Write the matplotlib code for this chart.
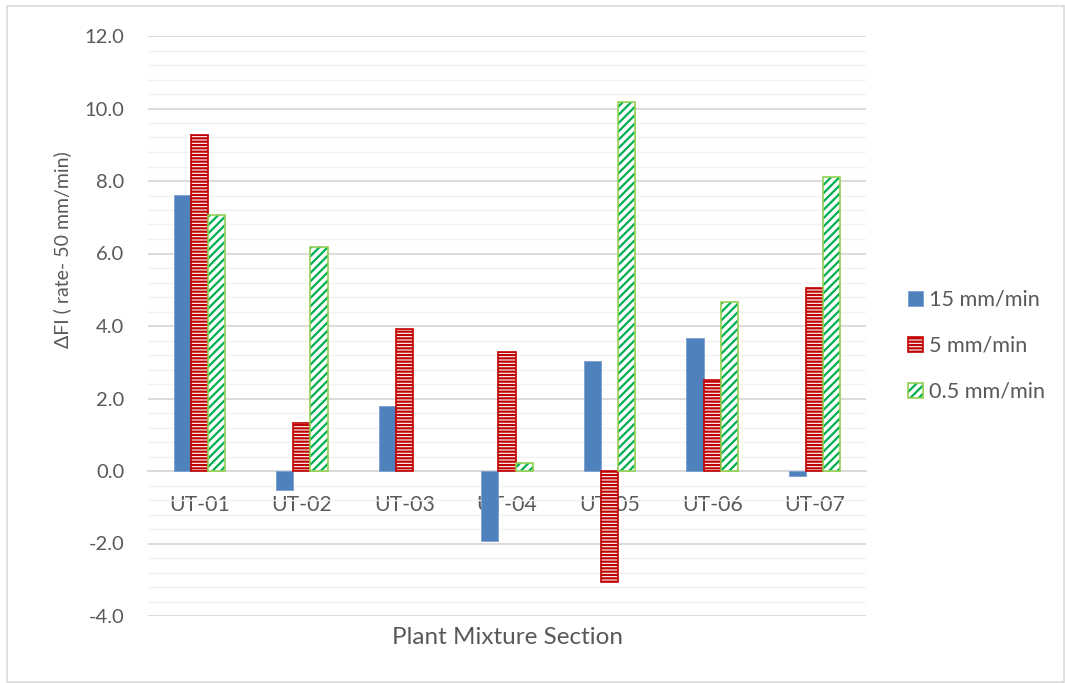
import numpy as np
import matplotlib
matplotlib.use("Agg")
import matplotlib.pyplot as plt
from matplotlib.patches import Rectangle
from matplotlib.ticker import MultipleLocator, FormatStrFormatter

sections = ["UT-01", "UT-02", "UT-03", "UT-04", "UT-05", "UT-06", "UT-07"]
rate_15 = [7.62, -0.53, 1.78, -1.93, 3.03, 3.67, -0.15]
rate_5 = [9.27, 1.32, 3.93, 3.27, -3.05, 2.50, 5.06]
rate_05 = [7.06, 6.17, np.nan, 0.21, 10.17, 4.67, 8.10]  # no bar for UT-03
series_names = ["15 mm/min", "5 mm/min", "0.5 mm/min"]

TXT = "#595959"
plt.rcParams["font.family"] = ["Lato", "DejaVu Sans"]
plt.rcParams["axes.unicode_minus"] = False
plt.rcParams["hatch.linewidth"] = 1.6

fig = plt.figure(figsize=(10.65, 6.83), dpi=100)
fig.patches.append(Rectangle((7 / 1065, 0.002), 1 - 8 / 1065, 1 - 6 / 683 - 0.002,
                             transform=fig.transFigure, fill=False,
                             edgecolor="#D9D9D9", linewidth=1.2))
ax = fig.add_axes([148 / 1065, 67 / 683, 718 / 1065, 580 / 683])

x = np.arange(len(sections))
w = 0.167

b1 = ax.bar(x - w, rate_15, w, color="#4F81BD", edgecolor="#7A9FD0",
            linewidth=0.6, zorder=3)
# red horizontal stripes
b2 = ax.bar(x, rate_5, w, color="white", edgecolor="#C00000", hatch="-----",
            linewidth=1.2, zorder=3)
# green diagonal stripes with a light outline
b3h = ax.bar(x + w, rate_05, w, color="white", edgecolor="#00B050",
             hatch="////", linewidth=0, zorder=3)
b3o = ax.bar(x + w, rate_05, w, fill=False, edgecolor="#92D050",
             linewidth=1.2, zorder=4)

ax.set_xlim(-0.5, len(sections) - 0.5)
ax.set_ylim(-4, 12)
ax.yaxis.set_major_locator(MultipleLocator(2))
ax.yaxis.set_minor_locator(MultipleLocator(0.4))
ax.yaxis.set_major_formatter(FormatStrFormatter("%.1f"))
ax.grid(axis="y", which="major", color="#D9D9D9", linewidth=1.3, zorder=0)
ax.grid(axis="y", which="minor", color="#F2F2F2", linewidth=1.0, zorder=0)
ax.set_axisbelow(True)

for s in ["top", "right", "left"]:
    ax.spines[s].set_visible(False)
ax.spines["bottom"].set_position(("data", 0))
ax.spines["bottom"].set_color("#D9D9D9")
ax.spines["bottom"].set_linewidth(1.3)

ax.set_xticks(x)
ax.set_xticklabels(sections)
ax.tick_params(axis="x", length=0, pad=17, labelsize=15.3, labelcolor=TXT)
ax.tick_params(axis="y", which="both", length=0, pad=17, labelsize=14.5,
               labelcolor=TXT)

fig.text(62 / 1065, 1 - 250 / 683, "\u0394FI ( rate- 50 mm/min)", rotation=90,
         ha="center", va="center", fontsize=14, color=TXT)
fig.text(507 / 1065, 1 - 637 / 683, "Plant Mixture Section", ha="center",
         va="center", fontsize=17.5, color=TXT)

leg = fig.legend([b1[0], b2[0], (b3h[0], b3o[0])], series_names,
                 loc="center left", bbox_to_anchor=(888 / 1065, 1 - 346 / 683),
                 frameon=False, fontsize=15.6, labelcolor=TXT,
                 handlelength=0.7, handleheight=0.7, handletextpad=0.3,
                 labelspacing=1.2)

fig.savefig("out.png", dpi=100)
